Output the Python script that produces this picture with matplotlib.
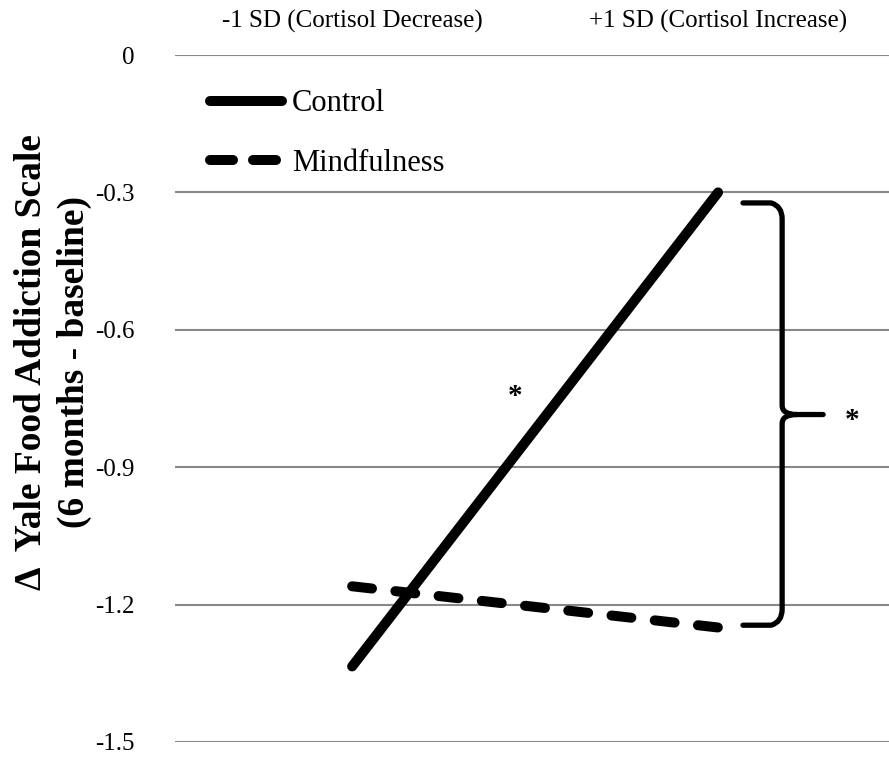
import matplotlib.pyplot as plt
from matplotlib.lines import Line2D
from matplotlib.path import Path
from matplotlib.patches import PathPatch

# data
categories = ['-1 SD (Cortisol Decrease)', '+1 SD (Cortisol Increase)']
control = [-1.335, -0.30]
mindfulness = [-1.16, -1.25]
y_ticks = [0, -0.3, -0.6, -0.9, -1.2, -1.5]
y_tick_labels = ['0', '-0.3', '-0.6', '-0.9', '-1.2', '-1.5']

plt.rcParams['font.family'] = ['Liberation Serif', 'DejaVu Serif']

fig = plt.figure(figsize=(8.89, 7.61), dpi=100)
ax = fig.add_axes([175 / 889, (761 - 742) / 761, 714 / 889, 687 / 761])

x = list(range(len(categories)))
ax.plot(x, control, color='black', lw=7.2, solid_capstyle='round')
ax.plot(x, mindfulness, color='black', lw=7.2, dashes=(2.0, 2.35),
        dash_capstyle='round')

ax.set_xlim(-0.484, 1.467)
ax.set_ylim(-1.5, 0)
ax.set_yticks(y_ticks)
ax.set_yticklabels(y_tick_labels)
ax.grid(axis='y', color='#888888', lw=1.5)
ax.set_axisbelow(True)
ax.xaxis.tick_top()
ax.set_xticks(x)
ax.set_xticklabels(categories)
ax.tick_params(length=0, labelsize=18, colors='black')
ax.tick_params(axis='x', pad=16)
ax.tick_params(axis='y', pad=29)
for s in ax.spines.values():
    s.set_visible(False)

ax.set_ylabel('\u0394  Yale Food Addiction Scale\n(6 months - baseline)',
              fontsize=27, fontweight='bold', linespacing=1.28)
ax.yaxis.set_label_coords(-0.116, 0.553)

# legend proxies (the key's dashes are a bit longer than in the plot)
handles = [Line2D([], [], color='black', lw=7.2, solid_capstyle='round'),
           Line2D([], [], color='black', lw=7.2, dashes=(2.3, 2.0),
                  dash_capstyle='round')]
ax.legend(handles, ['Control', 'Mindfulness'], loc='upper left',
          bbox_to_anchor=(0.049, 0.95), frameon=False, fontsize=22,
          handlelength=2.36, handletextpad=0.33, labelspacing=1.0,
          borderpad=0, borderaxespad=0)

# brace between the two groups at +1 SD
top = control[1] - 0.023
bot = mindfulness[1] + 0.005
mid = (control[1] + mindfulness[1]) / 2 - 0.01
x0, xv, xt = 1.068, 1.175, 1.287
r = 0.035
dx = 0.03
verts = [(x0, top), (xv - dx, top), (xv, top - r * 0.2), (xv, top - r),
         (xv, mid + 0.02), (xv, mid), (xv + 0.04, mid), (xt, mid)]
codes = [Path.MOVETO, Path.LINETO, Path.CURVE3, Path.CURVE3,
         Path.LINETO, Path.CURVE3, Path.CURVE3, Path.LINETO]
ax.add_patch(PathPatch(Path(verts, codes), fill=False, lw=3.8, color='black',
                       capstyle='round', joinstyle='round'))
verts2 = [(x0, bot), (xv - dx, bot), (xv, bot + r * 0.2), (xv, bot + r),
          (xv, mid - 0.02), (xv, mid), (xv + 0.04, mid)]
codes2 = [Path.MOVETO, Path.LINETO, Path.CURVE3, Path.CURVE3,
          Path.LINETO, Path.CURVE3, Path.CURVE3]
ax.add_patch(PathPatch(Path(verts2, codes2), fill=False, lw=3.8, color='black',
                       capstyle='round', joinstyle='round'))

ax.text(1.366, mid - 0.012, '*', fontsize=21, fontweight='bold', ha='center', va='center')
ax.text(0.445, -0.745, '*', fontsize=21, fontweight='bold', ha='center', va='center')

plt.savefig('out.png', dpi=100)
